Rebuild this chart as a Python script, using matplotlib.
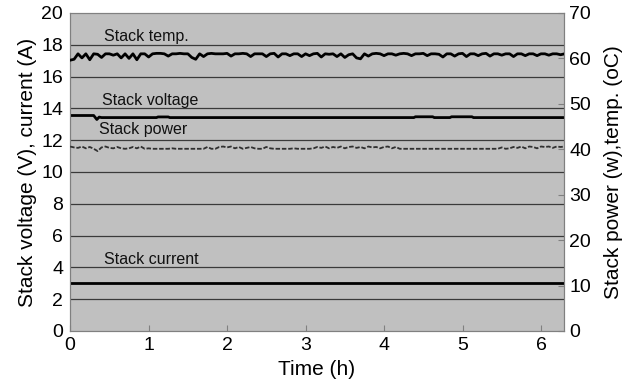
import matplotlib
matplotlib.use("Agg")
import matplotlib.pyplot as plt
import numpy as np

plt.rcParams.update({
    "font.family": ["Liberation Sans", "DejaVu Sans"],
    "font.size": 11,
})

BG, GRID, SPINE = "#c0c0c0", "#3a3a3a", "#808080"

# stack temperature (oC), right axis, one reading every 0.05 h
temp_c = [
    59.6, 59.8, 61.0, 60.1, 61.0, 59.7, 61.0, 60.9, 60.2, 61.0,
    61.0, 60.7, 61.0, 60.1, 61.0, 60.0, 61.0, 59.7, 61.0, 61.0,
    60.3, 61.0, 61.1, 61.1, 61.0, 60.5, 61.0, 61.0, 61.1, 61.0,
    61.0, 60.2, 59.8, 61.0, 60.4, 61.0, 61.1, 61.0, 61.0, 61.0,
    61.1, 60.5, 61.0, 61.0, 61.1, 61.0, 60.4, 61.0, 61.0, 61.0,
    60.4, 61.0, 61.1, 60.3, 61.0, 61.0, 60.6, 61.0, 61.0, 60.4,
    61.0, 60.6, 61.0, 61.1, 60.3, 61.0, 60.9, 61.0, 60.4, 61.0,
    60.2, 60.8, 61.0, 60.1, 59.9, 61.0, 60.5, 61.0, 61.1, 61.0,
    60.6, 61.0, 61.0, 60.7, 61.0, 61.1, 61.0, 60.6, 61.0, 61.0,
    61.1, 60.6, 61.0, 61.0, 60.9, 60.3, 61.0, 61.0, 60.5, 61.0,
    61.1, 60.4, 61.0, 61.0, 60.6, 61.0, 61.1, 60.5, 61.0, 61.0,
    60.7, 61.0, 61.0, 60.4, 61.0, 61.0, 60.6, 61.0, 61.0, 60.6,
    61.0, 61.0, 60.7, 61.0, 61.0, 60.8, 61.0,
]

# stack power (W), right axis, same sampling
power_w = [
    40.6, 40.4, 40.3, 40.6, 40.2, 40.5, 40.1, 39.6, 40.4, 40.6,
    40.3, 40.2, 40.5, 40.2, 40.1, 40.2, 40.5, 40.2, 40.6, 40.1,
    40.2, 40.1, 40.1, 40.1, 40.1, 40.1, 40.2, 40.1, 40.1, 40.1,
    40.1, 40.1, 40.1, 40.1, 40.1, 40.5, 40.1, 40.1, 40.5, 40.6,
    40.4, 40.6, 40.2, 40.5, 40.1, 40.3, 40.5, 40.2, 40.1, 40.1,
    40.5, 40.2, 40.1, 40.1, 40.1, 40.1, 40.1, 40.2, 40.1, 40.1,
    40.1, 40.1, 40.2, 40.5, 40.3, 40.6, 40.2, 40.5, 40.3, 40.6,
    40.2, 40.5, 40.6, 40.3, 40.5, 40.2, 40.6, 40.4, 40.5, 40.2,
    40.5, 40.6, 40.2, 40.5, 40.1, 40.1, 40.1, 40.1, 40.1, 40.1,
    40.1, 40.1, 40.1, 40.1, 40.1, 40.1, 40.1, 40.1, 40.1, 40.1,
    40.1, 40.1, 40.1, 40.1, 40.1, 40.1, 40.1, 40.1, 40.1, 40.1,
    40.4, 40.1, 40.2, 40.5, 40.3, 40.6, 40.2, 40.6, 40.5, 40.2,
    40.6, 40.5, 40.6, 40.3, 40.6, 40.5, 40.6,
]

# sample times (h)
time_h = np.round(np.arange(len(temp_c)) * 0.05, 2)

# stack voltage (V), left axis
volt_t = [0.0, 0.30, 0.34, 0.37, 0.40, 1.10, 1.12, 1.25, 1.27, 4.38, 4.40, 4.62, 4.64,
          4.84, 4.86, 5.12, 5.14, 6.30]
volt_v = [13.55, 13.55, 13.3, 13.45, 13.42, 13.42, 13.46, 13.46, 13.42, 13.42, 13.47, 13.47,
          13.42, 13.42, 13.47, 13.47, 13.42, 13.42]

# stack current (A), left axis
curr_t = [0.0, 6.30]
curr_a = [3.0, 3.0]

labels = [
    (0.43, 18.05, "Stack temp."),
    (0.40, 14.05, "Stack voltage"),
    (0.37, 12.2, "Stack power"),
    (0.43, 4.05, "Stack current"),
]

fig = plt.figure(figsize=(6.32, 3.86), dpi=100)
ax = fig.add_axes([0.111, 0.1425, 0.781, 0.824])
ax.set_facecolor(BG)
ax2 = ax.twinx()

for y in range(2, 20, 2):
    ax.axhline(y, color=GRID, linewidth=0.9, zorder=1)

ax.plot(curr_t, curr_a, color="black", linewidth=2.0, zorder=3)
ax.plot(volt_t, volt_v, color="black", linewidth=2.0, zorder=3)
ax2.plot(time_h, temp_c, color="black", linewidth=2.0, zorder=3)
ax2.plot(time_h, power_w, color="#303030", linewidth=1.3, linestyle=(0, (2.5, 1)),
         zorder=3)

for x, y, s in labels:
    ax.text(x, y, s, fontsize=11.5, color="#111111", ha="left", va="bottom", zorder=4)

ax.set_xlim(0, 6.29)
ax.set_ylim(0, 20)
ax2.set_ylim(0, 70)
ax.set_xticks(range(0, 7))
ax.set_yticks(range(0, 21, 2))
ax2.set_yticks(range(0, 71, 10))
ax.tick_params(axis="x", direction="in", length=4, color=SPINE, labelsize=14, pad=4)
ax.tick_params(axis="y", length=0, labelsize=14, pad=5)
ax2.tick_params(axis="y", direction="in", length=4, color=SPINE, labelsize=14, pad=4)

for a in (ax, ax2):
    for sp in a.spines.values():
        sp.set_color(SPINE)
        sp.set_linewidth(0.8)

ax.set_xlabel("Time (h)", fontsize=15, labelpad=5)
ax.set_ylabel("Stack voltage (V), current (A)", fontsize=15, labelpad=3)
ax2.set_ylabel("Stack power (w),temp. (oC)", fontsize=15, labelpad=9)

fig.savefig("out.png", dpi=100)
